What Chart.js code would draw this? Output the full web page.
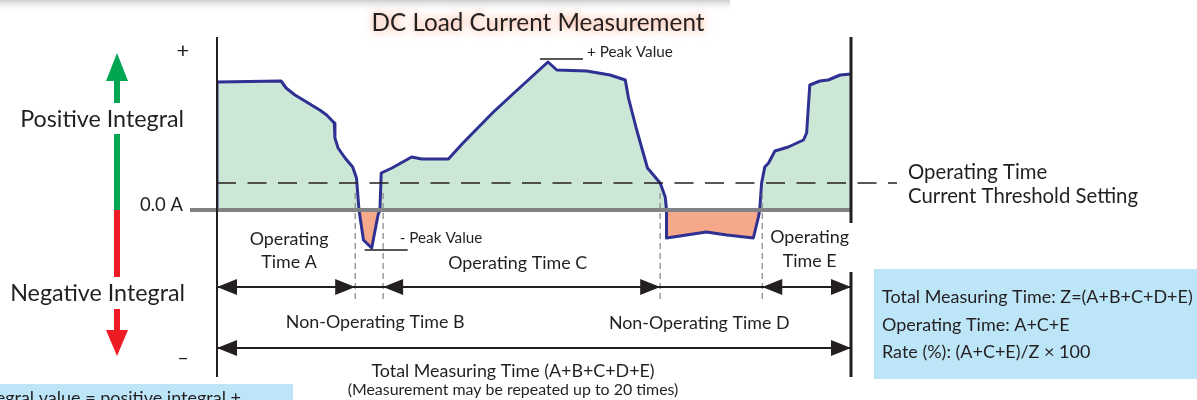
<!DOCTYPE html>
<html>
<head>
<meta charset="utf-8">
<script src="https://cdn.jsdelivr.net/npm/chart.js@4/dist/chart.umd.min.js"></script>
<style>
html,body{margin:0;padding:0;background:#fff;}
canvas{display:block;}
</style>
</head>
<body>
<canvas id="c" width="1197" height="400"></canvas>
<script>
// ---- data (time in % of total measuring time, current in arbitrary units) ----
const timeVals = [0, 0, 10.1, 10.9, 12.3, 16.2, 17.3, 18.5, 18.6, 19.1, 20.2, 21.4, 22.0, 22.4, 23.1, 24.4, 25.4, 25.7, 25.9,
  27.6, 30.7, 32.3, 36.5, 38.8, 43.6, 46.5, 52.2, 53.6, 58.3, 62.0, 64.4, 64.9, 66.2, 67.9, 69.9, 70.7, 70.9, 70.9,
  77.2, 80.4, 84.6, 85.4, 85.6, 85.9, 86.4, 87.0, 88.0, 90.1, 92.5, 93.0, 93.5, 95.1, 96.4, 98.3, 100];
const currentVals = [0, 128, 129, 122, 115, 100, 95, 87, 72, 62, 52, 43, 32, 0, -30, -38, -5, 0, 37,
  42, 53, 51, 51, 67, 98, 115, 148, 140, 139, 135, 130, 112, 80, 42, 27, 13, 0, -28,
  -22, -25, -28, -7, 0, 27, 43, 47, 59, 63, 70, 77, 125, 129, 130, 135, 136];
const thresholdLevel = 27;
const segmentBounds = [0, 21.8, 26.2, 69.9, 86.0, 100]; // A | B | C | D | E
const positivePeak = {x: 52.2, y: 148};
const negativePeak = {x: 24.4, y: -38};
const operatingLabels = [["Operating", "Time A"], ["Operating Time C"], ["Operating", "Time E"]];
const nonOperatingLabels = ["Non-Operating Time B", "Non-Operating Time D"];

const FONT = 'Lato';
const INK = '#231f20';

function fitSize(ctx, s, w) {
  ctx.font = '100px ' + FONT;
  return 100 * w / ctx.measureText(s).width;
}
function txt(ctx, s, x, y, size, align, color, baseline) {
  ctx.font = size + 'px ' + FONT;
  ctx.fillStyle = color || INK;
  ctx.textAlign = align || 'left';
  ctx.textBaseline = baseline || 'middle';
  ctx.fillText(s, x, y);
}
function head(ctx, tipX, y, dir) { // dir -1 points left, +1 points right
  ctx.beginPath();
  ctx.moveTo(tipX, y);
  ctx.lineTo(tipX - dir * 20, y - 8);
  ctx.lineTo(tipX - dir * 20, y + 8);
  ctx.closePath();
  ctx.fillStyle = INK;
  ctx.fill();
}

const overlay = {
  id: 'overlay',
  beforeDraw(chart) {
    const ctx = chart.ctx;
    ctx.save();
    const g = ctx.createLinearGradient(0, 0, 0, 12);
    g.addColorStop(0, 'rgba(200,200,200,0.9)');
    g.addColorStop(1, 'rgba(255,255,255,0)');
    ctx.fillStyle = g;
    ctx.fillRect(0, 0, 730, 12);
    ctx.restore();
  },
  afterDatasetsDraw(chart) {
    const ctx = chart.ctx, xs = chart.scales.x, ys = chart.scales.y;
    const x0 = xs.getPixelForValue(0), x1 = xs.getPixelForValue(100);
    ctx.save();
    // threshold dashed line
    const yt = ys.getPixelForValue(thresholdLevel);
    ctx.strokeStyle = INK; ctx.lineWidth = 1.5; ctx.setLineDash([19, 11.5]);
    ctx.beginPath(); ctx.moveTo(x0, yt); ctx.lineTo(x1 + 46, yt); ctx.stroke();
    // zero line
    const yz = ys.getPixelForValue(0);
    ctx.setLineDash([]);
    ctx.strokeStyle = '#808285'; ctx.lineWidth = 4;
    ctx.beginPath(); ctx.moveTo(x0 - 27, yz); ctx.lineTo(x1, yz); ctx.stroke();
    // dashed verticals at threshold crossings
    ctx.strokeStyle = '#8c8c8c'; ctx.lineWidth = 1.3; ctx.setLineDash([6, 4]);
    for (let i = 1; i < segmentBounds.length - 1; i++) {
      const x = xs.getPixelForValue(segmentBounds[i]);
      ctx.beginPath(); ctx.moveTo(x, yt + 10); ctx.lineTo(x, 302); ctx.stroke();
    }
    ctx.setLineDash([]);
    // peak markers
    ctx.strokeStyle = INK; ctx.lineWidth = 1.3;
    const px = xs.getPixelForValue(positivePeak.x), py = ys.getPixelForValue(positivePeak.y);
    ctx.beginPath(); ctx.moveTo(px - 8, py - 3); ctx.lineTo(px + 35, py - 3); ctx.stroke();
    const nx = xs.getPixelForValue(negativePeak.x), ny = ys.getPixelForValue(negativePeak.y);
    ctx.beginPath(); ctx.moveTo(nx - 7, ny + 2); ctx.lineTo(nx + 36, ny + 2); ctx.stroke();
    const peakSize = fitSize(ctx, '+ Peak Value', 86);
    txt(ctx, '+ Peak Value', px + 39, py - 10, peakSize);
    txt(ctx, '- Peak Value', nx + 28, ny - 10, peakSize);
    // axes
    ctx.strokeStyle = INK; ctx.lineWidth = 2;
    ctx.beginPath(); ctx.moveTo(x0, 37); ctx.lineTo(x0, 377); ctx.stroke();
    ctx.lineWidth = 3;
    ctx.beginPath(); ctx.moveTo(x1, 37); ctx.lineTo(x1, 223); ctx.moveTo(x1, 272); ctx.lineTo(x1, 377); ctx.stroke();
    ctx.restore();
  },
  afterDraw(chart) {
    const ctx = chart.ctx, xs = chart.scales.x;
    const bx = segmentBounds.map(v => xs.getPixelForValue(v));
    ctx.save();
    // title with glow
    const tSize = fitSize(ctx, 'DC Load Current Measurement', 333);
    ctx.shadowColor = 'rgba(245,120,70,0.8)'; ctx.shadowBlur = 8;
    txt(ctx, 'DC Load Current Measurement', 538, 23, tSize, 'center');
    ctx.shadowBlur = 0; ctx.shadowColor = 'transparent';

    // left integral arrows
    ctx.fillStyle = '#00a651';
    ctx.fillRect(114, 80, 6, 23); ctx.fillRect(114, 134, 6, 76);
    ctx.beginPath(); ctx.moveTo(117, 53); ctx.lineTo(128, 81); ctx.lineTo(106, 81); ctx.closePath(); ctx.fill();
    ctx.fillStyle = '#ed1c24';
    ctx.fillRect(114, 210, 6, 67); ctx.fillRect(114, 309, 6, 22);
    ctx.beginPath(); ctx.moveTo(117, 356); ctx.lineTo(128, 330); ctx.lineTo(106, 330); ctx.closePath(); ctx.fill();
    const intSize = fitSize(ctx, 'Negative Integral', 175);
    txt(ctx, 'Positive Integral', 184, 119, intSize, 'right');
    txt(ctx, 'Negative Integral', 185, 293, intSize, 'right');
    const sm = fitSize(ctx, '0.0 A', 43);
    txt(ctx, '0.0 A', 183, 205, sm, 'right');
    txt(ctx, '+', 183, 51, 22, 'center');
    txt(ctx, '–', 183, 358, 20, 'center');

    // time arrows row
    const yr = 287;
    ctx.strokeStyle = INK; ctx.lineWidth = 1.8;
    ctx.beginPath(); ctx.moveTo(bx[0], yr); ctx.lineTo(bx[5], yr); ctx.stroke();
    head(ctx, bx[0], yr, -1); head(ctx, bx[1], yr, 1);
    head(ctx, bx[2], yr, -1); head(ctx, bx[3], yr, 1);
    head(ctx, bx[4], yr, -1); head(ctx, bx[5], yr, 1);
    const yT = 348;
    ctx.beginPath(); ctx.moveTo(bx[0], yT); ctx.lineTo(bx[5], yT); ctx.stroke();
    head(ctx, bx[0], yT, -1); head(ctx, bx[5], yT, 1);

    const lab = fitSize(ctx, 'Operating Time C', 139);
    txt(ctx, operatingLabels[0][0], (bx[0] + bx[1]) / 2 + 3, 239, lab, 'center');
    txt(ctx, operatingLabels[0][1], (bx[0] + bx[1]) / 2 + 3, 262, lab, 'center');
    txt(ctx, operatingLabels[1][0], (bx[2] + bx[3]) / 2 - 4, 263, lab, 'center');
    txt(ctx, operatingLabels[2][0], (bx[4] + bx[5]) / 2 + 3, 237, lab, 'center');
    txt(ctx, operatingLabels[2][1], (bx[4] + bx[5]) / 2 + 3, 261, lab, 'center');
    txt(ctx, nonOperatingLabels[0], (bx[1] + bx[2]) / 2 + 6, 322, lab, 'center');
    txt(ctx, nonOperatingLabels[1], (bx[3] + bx[4]) / 2 - 12, 323, lab, 'center');
    txt(ctx, 'Total Measuring Time (A+B+C+D+E)', 513, 371, lab, 'center');
    const note = fitSize(ctx, '(Measurement may be repeated up to 20 times)', 331);
    txt(ctx, '(Measurement may be repeated up to 20 times)', 513, 390, note, 'center');

    // threshold label
    const thr = fitSize(ctx, 'Current Threshold Setting', 230);
    txt(ctx, 'Operating Time', 908, 172, thr);
    txt(ctx, 'Current Threshold Setting', 908, 196, thr);

    // info boxes
    ctx.fillStyle = '#bde5f8';
    ctx.fillRect(874, 269, 323, 110);
    ctx.fillRect(0, 384, 293, 16);
    const bs = fitSize(ctx, 'Total Measuring Time: Z=(A+B+C+D+E)', 311);
    txt(ctx, 'Total Measuring Time: Z=(A+B+C+D+E)', 882, 297, bs);
    txt(ctx, 'Operating Time: A+C+E', 882, 325, bs);
    txt(ctx, 'Rate (%): (A+C+E)/Z × 100', 882, 352, bs);
    const bl = fitSize(ctx, 'gral value = positive integral +', 236);
    txt(ctx, 'Integral value = positive integral +', 241, 404, bl, 'right', INK, 'alphabetic');
    ctx.restore();
  }
};

new Chart(document.getElementById('c'), {
  type: 'line',
  data: {
    datasets: [{
      data: timeVals.map((t, i) => ({x: t, y: currentVals[i]})),
      borderColor: '#2e3192',
      borderWidth: 3,
      borderJoinStyle: 'round',
      pointRadius: 0,
      tension: 0,
      fill: {target: 'origin', above: '#cde7d7', below: '#f6a88b'}
    }]
  },
  options: {
    responsive: false,
    animation: false,
    events: [],
    layout: {padding: {left: 217, right: 346, top: 37, bottom: 8}},
    scales: {
      x: {type: 'linear', min: 0, max: 100, display: false},
      y: {type: 'linear', min: -182, max: 173, display: false}
    },
    plugins: {
      legend: {display: false},
      tooltip: {enabled: false},
      filler: {drawTime: 'beforeDatasetsDraw'}
    }
  },
  plugins: [overlay]
});
</script>
</body>
</html>
